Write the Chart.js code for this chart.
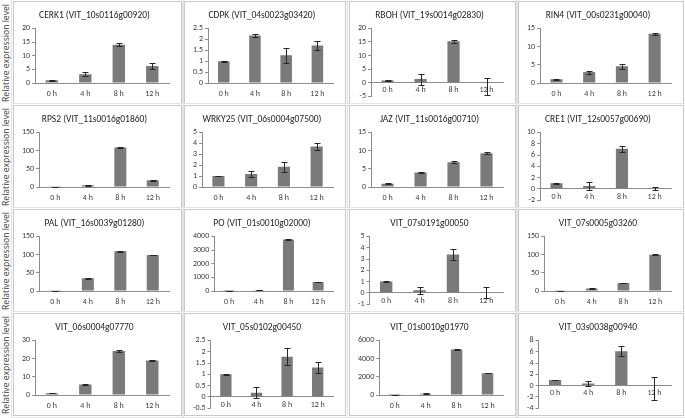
<!DOCTYPE html>
<html>
<head>
<meta charset="utf-8">
<script src="https://cdn.jsdelivr.net/npm/chart.js@4.4.1/dist/chart.umd.min.js"></script>
<style>
  html, body { margin: 0; padding: 0; background: #fff; }
  #wrap { position: relative; width: 685px; height: 418px; overflow: hidden; font-family: Carlito, Lato, "Open Sans", sans-serif; }
  .panel { position: absolute; box-sizing: border-box; border: 1px solid #c9c9c9; outline: 1px solid #e4e4e4; outline-offset: 1px; background: #fff; }
  .panel canvas { position: absolute; left: 0; top: 0; }
  .ylab { position: absolute; left: 0; width: 130px; height: 13px; font-family: "Open Sans", sans-serif; font-size: 8.6px; line-height: 13px; color: #3a3a3a; text-align: center; white-space: nowrap; transform-origin: 0 0; }
</style>
</head>
<body>
<div id="wrap"></div>
<script>
// ---------- data ----------
const categories = ['0 h', '4 h', '8 h', '12 h'];
const yAxisLabel = 'Relative expression level';
const titles = [
  'CERK1 (VIT_10s0116g00920)', 'CDPK (VIT_04s0023g03420)', 'RBOH (VIT_19s0014g02830)', 'RIN4 (VIT_00s0231g00040)',
  'RPS2 (VIT_11s0016g01860)', 'WRKY25 (VIT_06s0004g07500)', 'JAZ (VIT_11s0016g00710)', 'CRE1 (VIT_12s0057g00690)',
  'PAL (VIT_16s0039g01280)', 'PO (VIT_01s0010g02000)', 'VIT_07s0191g00050', 'VIT_07s0005g03260',
  'VIT_06s0004g07770', 'VIT_05s0102g00450', 'VIT_01s0010g01970', 'VIT_03s0038g00940'
];
// means
const cerk1 = [1.0, 3.2, 14.0, 6.2];
const cdpk = [1.0, 2.18, 1.27, 1.72];
const rboh = [0.8, 1.3, 15.3, 0];
const rin4 = [1.0, 3.0, 4.6, 13.5];
const rps2 = [1, 4.5, 108.5, 18.5];
const wrky25 = [1.0, 1.2, 1.85, 3.7];
const jaz = [0.9, 4.0, 6.8, 9.3];
const cre1 = [1.0, 0.5, 7.1, 0.1];
const pal = [1, 35.3, 109.4, 98.8];
const po = [1, 60, 3780, 660];
const g07s0191 = [1.0, 0.24, 3.4, 0.03];
const g07s0005 = [1, 7, 22, 99.7];
const g06s0004 = [1, 5.8, 24.2, 18.9];
const g05s0102 = [1.0, 0.18, 1.78, 1.3];
const g01s0010 = [1, 150, 5000, 2400];
const g03s0038 = [1.0, 0.36, 6.1, 0];
// errors (number = symmetric, [minus, plus] = asymmetric)
const cerk1Err = [0.2, 0.8, 0.6, 1.1];
const cdpkErr = [0.02, 0.08, 0.35, 0.22];
const rbohErr = [0.15, 2.0, 0.6, [4.5, 1.8]];
const rin4Err = [0.1, 0.4, 0.65, 0.3];
const rps2Err = [0.3, 1.2, 1.2, 1.5];
const wrky25Err = [0.03, 0.25, 0.47, 0.3];
const jazErr = [0.1, 0.1, 0.25, 0.3];
const cre1Err = [0.05, 0.7, 0.5, 0.3];
const palErr = [0.3, 1, 1, 1];
const poErr = [1, 8, 25, 20];
const g07s0191Err = [0.03, 0.3, 0.5, 0.52];
const g07s0005Err = [0.3, 0.8, 1, 1];
const g06s0004Err = [0.1, 0.3, 0.3, 0.2];
const g05s0102Err = [0.02, 0.25, 0.37, 0.26];
const g01s0010Err = [1, 15, 30, 30];
const g03s0038Err = [0.05, 0.5, 0.9, [2.6, 1.6]];
// axis ranges
const yMins = [0, 0, -5, 0, 0, 0, 0, -2, 0, 0, -1, 0, 0, -0.5, 0, -4];
const yMaxs = [20, 2.5, 20, 15, 150, 5, 15, 10, 150, 4000, 5, 150, 30, 2.5, 6000, 8];
const ySteps = [5, 0.5, 5, 5, 50, 1, 5, 2, 50, 1000, 1, 50, 10, 0.5, 2000, 2];

const seriesMeans = [cerk1, cdpk, rboh, rin4, rps2, wrky25, jaz, cre1, pal, po, g07s0191, g07s0005, g06s0004, g05s0102, g01s0010, g03s0038];
const seriesErrs = [cerk1Err, cdpkErr, rbohErr, rin4Err, rps2Err, wrky25Err, jazErr, cre1Err, palErr, poErr, g07s0191Err, g07s0005Err, g06s0004Err, g05s0102Err, g01s0010Err, g03s0038Err];

// ---------- layout ----------
const colLeft = [13, 184, 349, 518];
const colWidth = [169, 162, 167, 166];
const rowTop = [1, 105, 209, 313];
const rowHeight = 103;
const FONT = 'Carlito, Lato, "Open Sans", sans-serif';

const errorBarPlugin = {
  id: 'errorBars',
  afterDatasetsDraw(chart) {
    const ctx = chart.ctx;
    const ys = chart.scales.y;
    chart.data.datasets.forEach((ds, di) => {
      const meta = chart.getDatasetMeta(di);
      meta.data.forEach((bar, i) => {
        const e = ds.errors[i];
        const m = ds.data[i];
        const lo = Array.isArray(e) ? m - e[0] : m - e;
        const hi = Array.isArray(e) ? m + e[1] : m + e;
        const x = Math.round(bar.x) + 0.5;
        const y1 = Math.round(ys.getPixelForValue(hi)) + 0.5;
        const y2 = Math.round(ys.getPixelForValue(lo)) + 0.5;
        ctx.save();
        ctx.strokeStyle = '#262626';
        ctx.lineWidth = 1;
        ctx.beginPath();
        ctx.moveTo(x, y1); ctx.lineTo(x, y2);
        ctx.moveTo(x - 3, y1); ctx.lineTo(x + 3, y1);
        ctx.moveTo(x - 3, y2); ctx.lineTo(x + 3, y2);
        ctx.stroke();
        ctx.restore();
      });
    });
  }
};

const wrap = document.getElementById('wrap');

for (let r = 0; r < 4; r++) {
  const lab = document.createElement('div');
  lab.className = 'ylab';
  lab.textContent = yAxisLabel;
  lab.style.top = (rowTop[r] + rowHeight / 2 + 65) + 'px';
  lab.style.transform = 'rotate(-90deg)';
  wrap.appendChild(lab);
}

for (let p = 0; p < 16; p++) {
  const r = Math.floor(p / 4), c = p % 4;
  const div = document.createElement('div');
  div.className = 'panel';
  div.style.left = colLeft[c] + 'px';
  div.style.top = rowTop[r] + 'px';
  div.style.width = colWidth[c] + 'px';
  div.style.height = rowHeight + 'px';
  const cv = document.createElement('canvas');
  const w = colWidth[c] - 2, h = rowHeight - 2;
  cv.width = w; cv.height = h;
  cv.style.width = w + 'px'; cv.style.height = h + 'px';
  div.appendChild(cv);
  wrap.appendChild(div);

  const hasNeg = yMins[p] < 0;
  new Chart(cv, {
    type: 'bar',
    data: {
      labels: categories,
      datasets: [{
        data: seriesMeans[p],
        errors: seriesErrs[p],
        backgroundColor: '#7a7a7a',
        borderWidth: 0,
        barPercentage: 0.37,
        categoryPercentage: 1
      }]
    },
    options: {
      responsive: false,
      animation: false,
      devicePixelRatio: 1,
      layout: { padding: { left: 6, right: 12, top: 0, bottom: hasNeg ? 4 : 2 } },
      plugins: {
        legend: { display: false },
        tooltip: { enabled: false },
        title: {
          display: true,
          text: titles[p],
          color: '#262626',
          font: { family: FONT, size: 9.5, weight: 'normal' },
          padding: { top: 8, bottom: 7 }
        }
      },
      scales: {
        x: {
          position: hasNeg ? { y: 0 } : 'bottom',
          offset: true,
          grid: { display: false, drawTicks: false },
          border: { display: true, color: '#8c8c8c', width: 1 },
          ticks: { color: '#404040', font: { family: FONT, size: 8 }, padding: hasNeg ? 3 : 6, maxRotation: 0, autoSkip: false },
          afterFit: (scale) => { scale.height = hasNeg ? 4 : 18; }
        },
        y: {
          min: yMins[p],
          max: yMaxs[p],
          grid: { display: true, drawOnChartArea: false, drawTicks: true, tickLength: 3, color: '#8c8c8c' },
          border: { display: true, color: '#8c8c8c', width: 1 },
          ticks: {
            stepSize: ySteps[p],
            autoSkip: false,
            color: '#404040',
            padding: 2,
            font: { family: FONT, size: 8 },
            callback: (v) => String(Math.round(v * 100) / 100)
          }
        }
      }
    },
    plugins: [errorBarPlugin]
  });
}
</script>
</body>
</html>
